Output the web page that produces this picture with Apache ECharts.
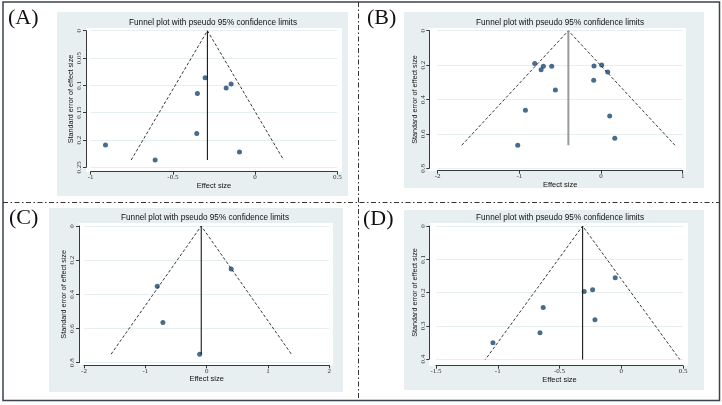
<!DOCTYPE html>
<html>
<head>
<meta charset="utf-8">
<script src="https://cdn.jsdelivr.net/npm/echarts@6/dist/echarts.min.js"></script>
<style>
  html, body { margin: 0; padding: 0; background: #fff; }
  #chart { width: 722px; height: 405px; }
</style>
</head>
<body>
<div id="chart"></div>
<script>
// study data (effect size, standard error)
var effectA = [-0.304, -0.146, -0.176, -0.351, -0.355, -0.91, -0.095, -0.608];
var seA     = [0.086, 0.0975, 0.105, 0.115, 0.188, 0.209, 0.222, 0.2366];

var effectB = [-0.812, -0.706, -0.734, -0.604, -0.559, -0.926, -1.02, -0.086, 0.008, 0.082, -0.09, 0.106, 0.168];
var seB     = [0.190, 0.207, 0.227, 0.207, 0.345, 0.463, 0.666, 0.205, 0.199, 0.240, 0.288, 0.496, 0.626];

var effectC = [0.40, -0.806, -0.713, -0.114];
var seC     = [0.252, 0.353, 0.565, 0.750];

var effectD = [-0.049, -0.30, -0.232, -0.632, -0.213, -0.658, -1.039, -0.402];
var seD     = [0.156, 0.197, 0.192, 0.245, 0.282, 0.321, 0.351, 0.407];

// pooled estimate of each plot (the vertical line)
var pooled = [-0.29, -0.40, -0.088, -0.313];

// tick labels
var xTicksA = [-1, -0.5, 0, 0.5],  yTicksA = [0, 0.05, 0.1, 0.15, 0.2, 0.25];
var xTicksB = [-2, -1, 0, 1],      yTicksB = [0, 0.2, 0.4, 0.6, 0.8];
var xTicksC = [-2, -1, 0, 1, 2],   yTicksC = [0, 0.2, 0.4, 0.6, 0.8];
var xTicksD = [-1.5, -1, -0.5, 0, 0.5], yTicksD = [0, 0.1, 0.2, 0.3, 0.4];

var panelNames = ['(A)', '(B)', '(C)', '(D)'];
var titleText = 'Funnel plot with pseudo 95% confidence limits';

var chart = echarts.init(document.getElementById('chart'));

var navy = '#1a476f';
var bgPanel = '#e8eff1';

// layout of each panel: grid = tick range, plot = white plot region, bg = outer grey box
var panels = [
    { eff: effectA, se: seA, xt: xTicksA, yt: yTicksA, thin: true,
      grid: { left: 90.7, top: 30.7, width: 246.6, height: 136.65 }, yOff: 4.7, xOff: 4.35,
      plot: [86, 28, 256, 143.7], bg: [57, 12, 291, 184], title: [213, 18.5], tag: [8, 7] },
    { eff: effectB, se: seB, xt: xTicksB, yt: yTicksB, thin: false,
      grid: { left: 437.7, top: 30.7, width: 245, height: 137.6 }, yOff: 8.4, xOff: 2.4,
      plot: [429, 28, 257, 142.7], bg: [404, 12, 300, 176], title: [560, 18.5], tag: [367, 7] },
    { eff: effectC, se: seC, xt: xTicksC, yt: yTicksC, thin: true,
      grid: { left: 84, top: 226, width: 245.3, height: 136.7 }, yOff: 5, xOff: 2.6,
      plot: [79, 223, 254, 142.3], bg: [49, 208, 294, 184], title: [205, 214], tag: [9, 207] },
    { eff: effectD, se: seD, xt: xTicksD, yt: yTicksD, thin: true,
      grid: { left: 436, top: 226, width: 247, height: 133 }, yOff: 6.7, xOff: 6.7,
      plot: [429, 223, 259, 142.7], bg: [404, 210, 300, 180], title: [560, 214], tag: [363, 208] }
];

var grids = [], xAxes = [], yAxes = [], series = [], titles = [];
var graphics = [];

panels.forEach(function (p, i) {
    graphics.push({ type: 'rect', z: -10, silent: true,
        shape: { x: p.bg[0], y: p.bg[1], width: p.bg[2], height: p.bg[3] },
        style: { fill: bgPanel } });
    graphics.push({ type: 'rect', z: -9, silent: true,
        shape: { x: p.plot[0], y: p.plot[1], width: p.plot[2], height: p.plot[3] },
        style: { fill: '#fff' } });
    graphics.push({ type: 'text', x: p.tag[0], y: p.tag[1], silent: true,
        style: { text: panelNames[i], font: '22px "Liberation Serif", serif', fill: '#111' } });

    titles.push({ text: titleText, left: p.title[0], top: p.title[1], textAlign: 'center', padding: 0,
        textStyle: { fontSize: 8.2, fontWeight: 'normal', color: '#111', fontFamily: 'Liberation Sans, Arial' } });

    grids.push(p.grid);

    xAxes.push({
        gridIndex: i, type: 'value',
        min: p.xt[0], max: p.xt[p.xt.length - 1], interval: p.xt[1] - p.xt[0],
        offset: p.xOff,
        name: 'Effect size', nameLocation: 'middle', nameGap: 9,
        nameTextStyle: { fontSize: 7.5, color: '#111', fontFamily: 'Liberation Sans, Arial' },
        axisLine: { onZero: false, lineStyle: { color: '#222', width: 0.9 } },
        axisTick: { length: 3, lineStyle: { color: '#222', width: 0.9 } },
        axisLabel: { fontSize: 7, color: '#333', margin: 2, fontFamily: 'Liberation Serif, serif' },
        splitLine: { show: false }
    });

    yAxes.push({
        gridIndex: i, type: 'value', inverse: true,
        min: p.yt[0], max: p.yt[p.yt.length - 1], interval: p.yt[1] - p.yt[0],
        offset: p.yOff,
        name: 'Standard error of effect size', nameLocation: 'middle', nameGap: 11,
        nameTextStyle: { fontSize: 7.2, color: '#111', fontFamily: 'Liberation Sans, Arial' },
        axisLine: { onZero: false, lineStyle: { color: '#222', width: 0.9 } },
        axisTick: { length: 3, lineStyle: { color: '#222', width: 0.9 } },
        axisLabel: { rotate: 90, fontSize: 7, color: '#333', margin: 3, fontFamily: 'Liberation Serif, serif' },
        splitLine: { show: true, lineStyle: { color: '#e6eef0', width: 1 } }
    });

    // pseudo 95% limits: pooled +/- 1.96*se down to the largest se
    var seMax = Math.max.apply(null, p.se);
    var c = pooled[i];
    series.push({
        type: 'line', xAxisIndex: i, yAxisIndex: i, symbol: 'none', silent: true,
        data: [[c - 1.96 * seMax, seMax], [c, 0], [c + 1.96 * seMax, seMax]],
        lineStyle: { color: '#222', width: 0.9, type: [3, 2] }
    });
    series.push({
        type: 'line', xAxisIndex: i, yAxisIndex: i, symbol: 'none', silent: true,
        data: [[c, 0], [c, seMax]],
        lineStyle: p.thin ? { color: '#1a1a1a', width: 1.1 } : { color: '#9a9a9a', width: 2 }
    });
    series.push({
        type: 'scatter', xAxisIndex: i, yAxisIndex: i, symbolSize: 5,
        itemStyle: { color: navy },
        data: p.eff.map(function (e, k) { return [e, p.se[k]]; })
    });
});

// frame and dash-dot dividers
graphics.push({ type: 'rect', silent: true, z: 10,
    shape: { x: 3, y: 2, width: 716.5, height: 398.5 },
    style: { fill: null, stroke: '#3c4250', lineWidth: 1.5 } });
graphics.push({ type: 'line', silent: true, z: 10,
    shape: { x1: 358.5, y1: 2, x2: 358.5, y2: 400.5 },
    style: { stroke: '#333', lineWidth: 1, lineDash: [5, 2.5, 1.5, 2.5] } });
graphics.push({ type: 'line', silent: true, z: 10,
    shape: { x1: 3, y1: 202.5, x2: 719.5, y2: 202.5 },
    style: { stroke: '#333', lineWidth: 1, lineDash: [5, 2.5, 1.5, 2.5] } });

chart.setOption({
    animation: false,
    backgroundColor: '#fff',
    title: titles,
    grid: grids,
    xAxis: xAxes,
    yAxis: yAxes,
    series: series,
    graphic: graphics
});
</script>
</body>
</html>
